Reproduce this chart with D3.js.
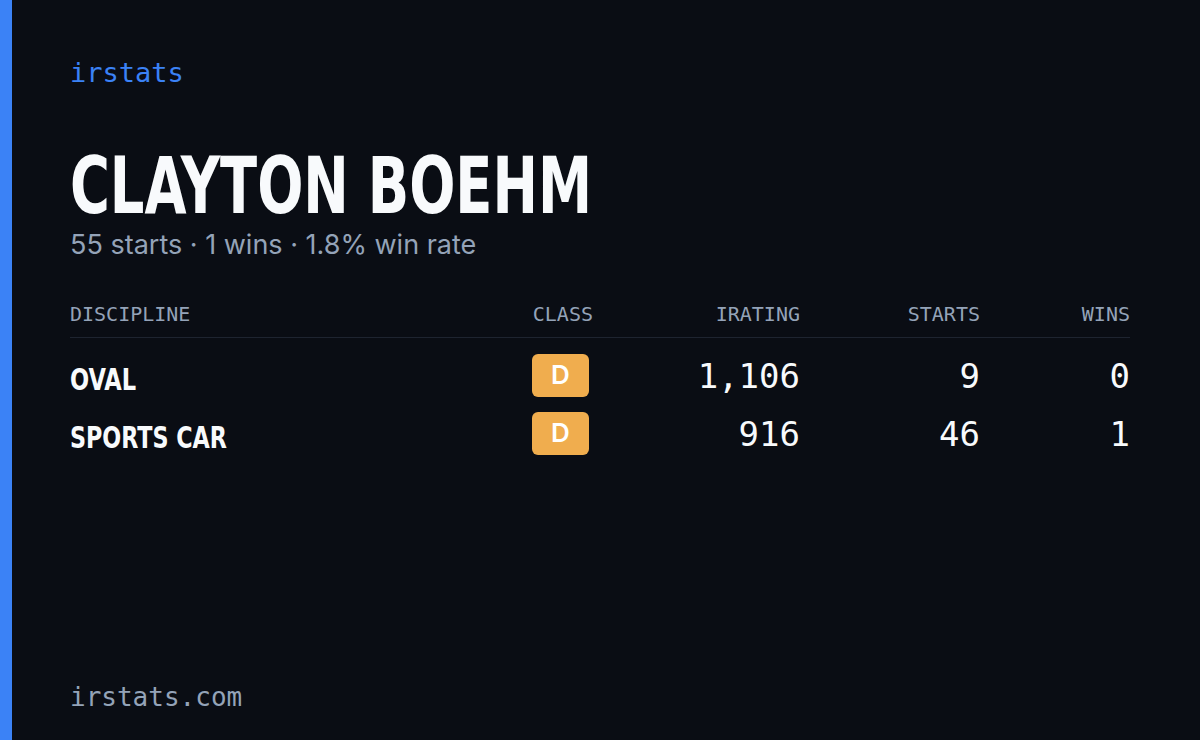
<!DOCTYPE html><html><head><meta charset="utf-8"><script src="https://cdn.jsdelivr.net/npm/d3@7"></script>
<style>body{margin:0;background:#0a0d14}</style></head><body><svg id="c" width="1200" height="740"></svg>
<script>
const disciplines=["OVAL","SPORTS CAR"];
const classes=["D","D"];
const iratings=[1106,916];
const starts=[9,46];
const wins=[0,1];
const headers=["DISCIPLINE","CLASS","IRATING","STARTS","WINS"];
const svg=d3.select("#c");
svg.append("rect").attr("width",1200).attr("height",740).attr("fill","#0a0d14");
svg.append("rect").attr("width",12).attr("height",740).attr("fill","#3b82f6");
const mono="'DejaVu Sans Mono','Liberation Mono',monospace";
const cond="'DejaVu Sans Condensed','DejaVu Sans',sans-serif";
svg.append("text").attr("x",70).attr("y",82).attr("fill","#3b82f6").attr("font-family",mono).attr("font-size",27).text("irstats");
svg.append("text").attr("x",70).attr("y",213).attr("fill","#f8fafc").attr("font-family",cond).attr("font-weight","bold").attr("font-size",78).attr("textLength",522).attr("lengthAdjust","spacingAndGlyphs").text("CLAYTON BOEHM");
svg.append("text").attr("x",70).attr("y",254).attr("fill","#94a3b8").attr("font-family","Inter,sans-serif").attr("font-size",27).text("55 starts · 1 wins · 1.8% win rate");
const colX=[70,593,800,980,1130];
const anch=["start","end","end","end","end"];
headers.forEach((h,i)=>svg.append("text").attr("x",colX[i]).attr("y",321).attr("text-anchor",anch[i]).attr("fill","#94a3b8").attr("font-family",mono).attr("font-size",20).text(h));
svg.append("line").attr("x1",70).attr("x2",1130).attr("y1",337.5).attr("y2",337.5).attr("stroke","#1e2430");
const y=d3.scaleBand().domain(disciplines).range([347,463]).padding(0);
const fmt=d3.format(",");
disciplines.forEach((d,i)=>{
 const yc=y(d)+y.bandwidth()/2;
 svg.append("text").attr("x",70).attr("y",yc+14).attr("fill","#f8fafc").attr("font-family",cond).attr("font-weight","bold").attr("font-size",30).attr("textLength",d.length*(d==="OVAL"?16.5:15.7)).attr("lengthAdjust","spacingAndGlyphs").text(d);
 svg.append("rect").attr("x",532).attr("y",yc-22).attr("width",57).attr("height",43).attr("rx",6).attr("fill","#f0ad4e");
 svg.append("text").attr("x",560.5).attr("y",yc+8).attr("text-anchor","middle").attr("fill","#fff").attr("font-family","Inter,sans-serif").attr("font-weight",600).attr("font-size",26).text(classes[i]);
 [fmt(iratings[i]),starts[i],wins[i]].forEach((v,j)=>svg.append("text").attr("x",colX[j+2]).attr("y",yc+12).attr("text-anchor","end").attr("fill","#f8fafc").attr("font-family",mono).attr("font-size",34).text(v));
});
svg.append("text").attr("x",70).attr("y",706).attr("fill","#94a3b8").attr("font-family",mono).attr("font-size",26).text("irstats.com");
</script></body></html>
